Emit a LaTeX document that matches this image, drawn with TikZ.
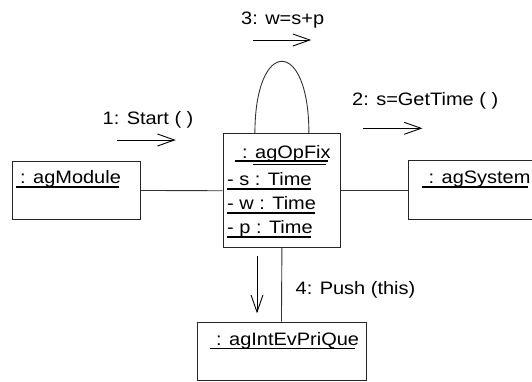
\documentclass[tikz,border=0pt]{standalone}
\usepackage{graphicx}
\usepackage{fontspec}
\setmainfont{Liberation Sans}
\usetikzlibrary{arrows.meta}
% wide sans text, as set by the original drawing tool
\newcommand{\widetext}[1]{\scalebox{1.11}[1]{#1}}
\begin{document}
\begin{tikzpicture}[x=1pt,y=-1pt,
  objbox/.style={draw=black!85, line width=0.9pt, inner sep=0pt, anchor=north west},
  lbl/.style={inner sep=0pt, anchor=base west, font=\fontsize{18}{20}\selectfont},
  uline/.style={line width=1.6pt},
  thinline/.style={line width=0.6pt},
  link/.style={draw=black!80, line width=0.9pt},
  msg/.style={line width=0.9pt, -{Straight Barb[length=17pt,width=12pt]}}]
\useasboundingbox (0,0) rectangle (532,381);

% object boxes
\node[objbox, minimum width=128pt, minimum height=58pt] (mod) at (12,161) {};
\node[objbox, minimum width=117.7pt, minimum height=114pt] (opfix) at (222.6,133.3) {};
\node[objbox, minimum width=126pt, minimum height=58.7pt] (sys) at (408.3,160.3) {};
\node[objbox, minimum width=169pt, minimum height=58.3pt] (queue) at (196.5,321.7) {};

% object names and attributes
\node[lbl] (modname) at (20,183.5) {\widetext{: agModule}};
\node[lbl] (opname) at (242,158) {\widetext{: agOpFix}};
\node[lbl] (sysname) at (428.5,183.5) {\widetext{: agSystem}};
\node[lbl] (qname) at (216,345) {\widetext{: agIntEvPriQue}};
\node[lbl] (attrs) at (227,185.5) {\widetext{- s : Time}};
\node[lbl] (attrw) at (227,209.5) {\widetext{- w : Time}};
\node[lbl] (attrp) at (227,233.5) {\widetext{- p : Time}};

\draw[uline] (16.3,187) -- (119.4,187);
\draw[uline] (235,161) -- (328,161);
\draw[thinline] (253,164.5) -- (326,164.5);
\draw[uline] (421.7,187) -- (527.7,187);
\draw[uline] (210,348.3) -- (355,348.3);
\draw[uline] (227,188.7) -- (310.5,188.7);
\draw[uline] (227,212.7) -- (315,212.7);
\draw[uline] (227,236.7) -- (311,236.7);

% links between objects
\draw[link] (mod.east) -- (opfix.west);
\draw[link] (opfix.east) -- (opfix.east -| sys.west);
\draw[link] (opfix.south) -- (queue.north);
\draw[link] ([xshift=-27pt]opfix.north) .. controls +(0,-96) and +(0,-96) .. ([xshift=27pt]opfix.north);

% messages
\coordinate (m1s) at (117,140);   \coordinate (m1e) at (175.8,140);
\coordinate (m2s) at (363,128.3); \coordinate (m2e) at (422.5,128.3);
\coordinate (m3s) at (252.8,40);  \coordinate (m3e) at (311.2,40);
\coordinate (m4s) at (257,256);   \coordinate (m4e) at (257,313.3);
\draw[msg] (m1s) -- (m1e);
\draw[msg] (m2s) -- (m2e);
\draw[msg] (m3s) -- (m3e);
\draw[msg] (m4s) -- (m4e);

\node[lbl] (msg1) at (102.5,124.5) {\widetext{1: Start ( )}};
\node[lbl] (msg2) at (352,105.5) {\widetext{2: s=GetTime ( )}};
\node[lbl] (msg3) at (241,24.5) {\widetext{3: w=s+p}};
\node[lbl] (msg4) at (295.5,294.5) {\widetext{4: Push (this)}};
\end{tikzpicture}
\end{document}
